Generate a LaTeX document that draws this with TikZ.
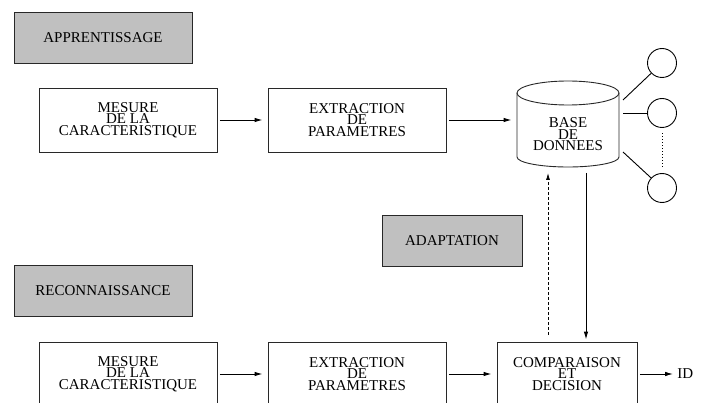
\documentclass[tikz,border=0pt]{standalone}
\usepackage{fontspec}
\setmainfont{Liberation Serif}
\usetikzlibrary{arrows.meta}
\definecolor{boxgray}{RGB}{192,192,192}
\definecolor{edgegray}{RGB}{40,40,40}
\begin{document}
\begin{tikzpicture}[x=1pt,y=1pt,
  font=\fontsize{15}{11.6}\selectfont,
  line width=0.9pt,
  blockbox/.style={draw=edgegray, align=center, inner sep=0pt, minimum width=178pt, minimum height=64pt},
  smallbox/.style={blockbox, minimum width=140pt},
  labelbox/.style={draw=edgegray, fill=boxgray, inner sep=0pt, minimum height=51pt, minimum width=178pt},
  ball/.style={draw, circle, minimum size=29pt, inner sep=0pt},
  flow/.style={-{Latex[length=8pt,width=4.5pt]}, shorten <=2.5pt, shorten >=5pt},
]
\useasboundingbox (0,0) rectangle (707,402);
\clip (0,0) rectangle (707,402);

% label boxes
\node[labelbox] (app) at (103,364.5) {APPRENTISSAGE};
\node[labelbox] (rec) at (103,111.5) {RECONNAISSANCE};
\node[labelbox, minimum width=140pt] (adapt) at (452,161.5) {ADAPTATION};

% top row
\node[blockbox] (mes1) at (128,282) {MESURE\\DE LA\\CARACTERISTIQUE};
\node[blockbox] (ext1) at (357,282) {EXTRACTION\\DE\\PARAMETRES};

% database cylinder
\node[minimum width=102pt, minimum height=86pt, inner sep=0pt] (db) at (568,278) {};
\draw[edgegray] (517,309) -- (517,245) arc[start angle=180, end angle=360, x radius=51, y radius=10] -- (619,309);
\draw[edgegray] (568,309) ellipse[x radius=51, y radius=12];
\node[align=center, inner sep=0pt] (dbtext) at (568,267.5) {BASE\\DE\\DONNEES};

% circles
\node[ball] (c1) at (662,339) {};
\node[ball] (c2) at (662,289) {};
\node[ball] (c3) at (662,214) {};
\coordinate (d1) at (623,302);
\coordinate (d2) at (623,289);
\coordinate (d3) at (623,250);
\draw (d1) -- (c1);
\draw (d2) -- (c2);
\draw (d3) -- (c3);
\draw[dotted, line width=1pt, shorten <=5.5pt, shorten >=5.5pt] (c2.south) -- (c3.north);

% bottom row
\node[blockbox] (mes2) at (128,28) {MESURE\\DE LA\\CARACTERISTIQUE};
\node[blockbox] (ext2) at (357,28) {EXTRACTION\\DE\\PARAMETRES};
\node[smallbox] (comp) at (567,28) {COMPARAISON\\ET\\DECISION};
\node[anchor=west, inner sep=0pt] (id) at (677,28) {ID};

% flow arrows
\draw[flow] (mes1.east) -- (ext1.west);
\draw[flow] (ext1.east) -- (ext1.east -| db.west);
\draw[flow] (mes2.east) -- (ext2.west);
\draw[flow] (ext2.east) -- (comp.west);
\draw[flow, shorten >=4pt] (comp.east) -- (id.west);

% database <-> comparison
\coordinate (dbout) at (586,229);
\coordinate (dbin) at (548,229);
\draw[-{Latex[length=8pt,width=4.5pt]}, shorten >=2pt] (dbout) -- (dbout |- comp.north);
\draw[densely dashed, line width=0.8pt, -{Latex[length=7pt,width=4pt]}, shorten <=7pt] (dbin |- comp.north) -- (dbin);
\end{tikzpicture}
\end{document}
